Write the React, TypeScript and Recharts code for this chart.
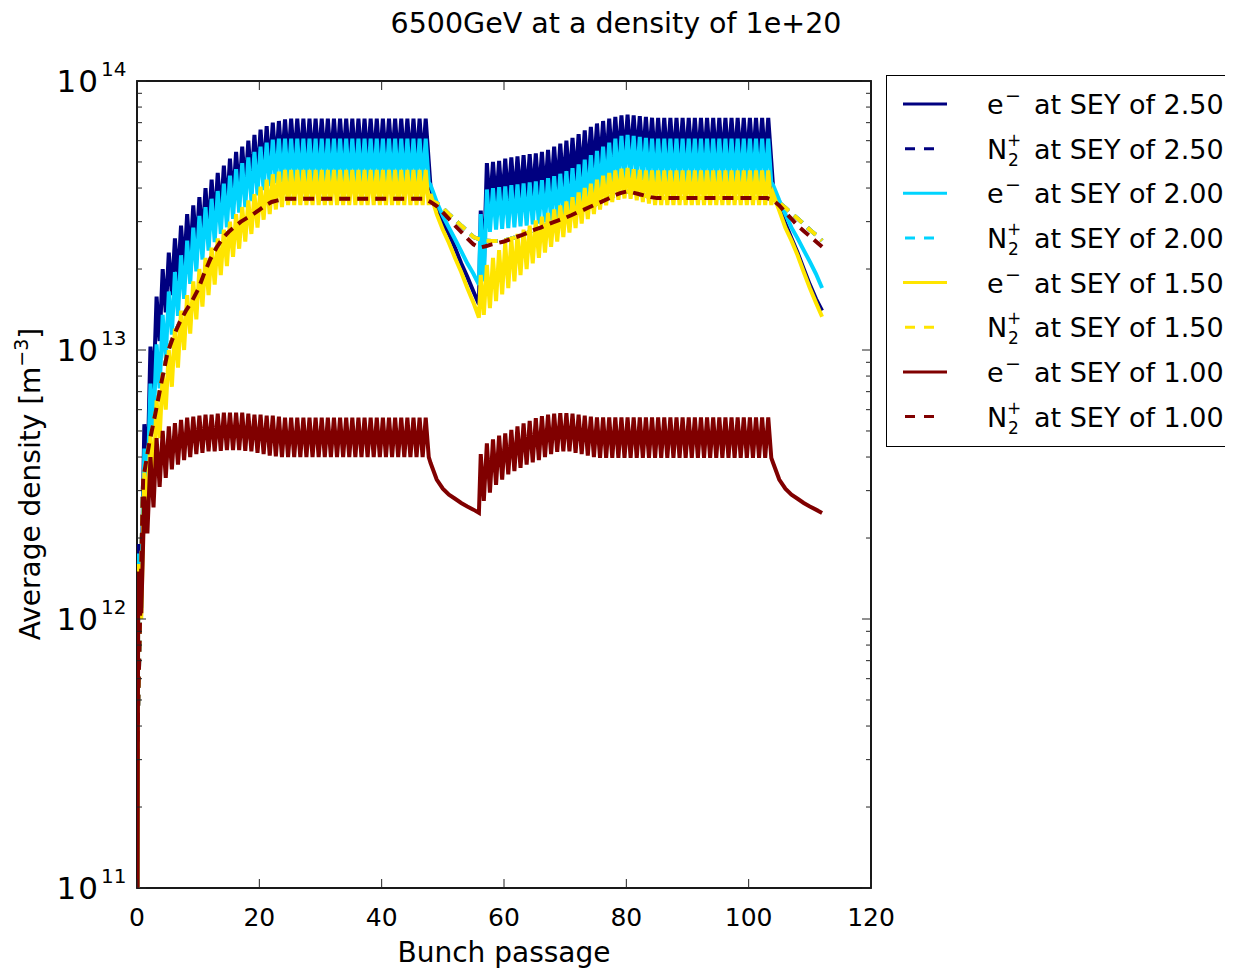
import React from 'react';
import { LineChart, Line, XAxis, YAxis } from 'recharts';

const FONT = '"DejaVu Sans", sans-serif';
const W = 1225;
const H = 962;
const PLOT_LEFT = 129;
const PLOT_TOP = 73;
const PLOT_RIGHT = 863;
const PLOT_BOTTOM = 880;

// axes
const xTicks = [0, 20, 40, 60, 80, 100, 120];
const yDecades = [1e11, 1e12, 1e13, 1e14];
const yMinorFactors = [2, 3, 4, 5, 6, 7, 8, 9];
const yTicks = [
  ...yDecades,
  ...yDecades.slice(0, 3).flatMap(d => yMinorFactors.map(m => m * d)),
];

// where the two bunch trains start, and the sample points of the empty gaps
const TRAIN1_START = 0;
const TRAIN2_START = 56;
const gap1X = [48, 49, 50, 51, 52, 53, 54, 55, 55.9];
const gap2X = [104, 105, 106, 107, 108, 109, 110, 111, 112];

// electron density, 1e12 m^-3: value right after each bunch (peak) and before the next (trough)
const e250Train1Peaks = [1.9, 5.3, 10.3, 15.8, 20, 23, 26, 29, 32, 34.5, 37, 40, 43, 45.5, 48.5, 51.5, 54.5, 57, 60, 63, 66, 68, 70, 71, 72, 72.5, 72.5, 72.5, 72.5, 72.5, 72.5, 72.5, 72.5, 72.5, 72.5, 72.5, 72.5, 72.5, 72.5, 72.5, 72.5, 72.5, 72.5, 72.5, 72.5, 72.5, 72.5, 72.5];
const e250Train1Troughs = [1.2, 3.4, 7, 10.8, 13.8, 16, 18, 20, 22, 23.8, 25.5, 27.5, 29.5, 31.4, 33.4, 35.5, 37.5, 39.3, 41.3, 43.4, 45.5, 46.9, 48.3, 49, 49.6, 50, 50, 50, 50, 50, 50, 50, 50, 50, 50, 50, 50, 50, 50, 50, 50, 50, 50, 50, 50, 50, 50, 50];
const e250Gap1 = [40, 34, 30, 27, 24, 21, 18.7, 16.5, 14.8];
const e250Train2Peaks = [33, 49.5, 50, 50.5, 51.5, 52, 52.5, 53, 53.5, 53.8, 54.5, 55.5, 57, 58.5, 60, 61.5, 63.5, 65.5, 67.5, 69.5, 71, 72.5, 73.5, 74.5, 75, 74.5, 74, 73.5, 73, 73, 73, 73, 73, 73, 73, 73, 73, 73, 73, 73, 73, 73, 73, 73, 73, 73, 73, 73];
const e250Train2Troughs = [20, 34, 34.5, 35, 35.5, 35.8, 36.2, 36.5, 36.8, 37, 37.5, 38.3, 39.3, 40.3, 41.4, 42.4, 43.8, 45.2, 46.5, 48, 49, 50, 50.7, 51.4, 51.7, 51.4, 51, 50.7, 50.3, 50.3, 50.3, 50.3, 50.3, 50.3, 50.3, 50.3, 50.3, 50.3, 50.3, 50.3, 50.3, 50.3, 50.3, 50.3, 50.3, 50.3, 50.3, 50.3];
const e250Gap2 = [40, 34, 29.5, 26, 23, 20, 17.5, 15.5, 14];

const e200Train1Peaks = [1.75, 4.3, 7.5, 10.5, 13.5, 16.5, 19.5, 22.5, 25.5, 28.5, 31.5, 34, 36.5, 39, 41.5, 44.5, 47, 49.5, 52, 54.5, 57, 59, 60.5, 61, 61, 61, 61, 61, 61, 61, 61, 61, 61, 61, 61, 61, 61, 61, 61, 61, 61, 61, 61, 61, 61, 61, 61, 61];
const e200Train1Troughs = [1.1, 3.0, 5.2, 7.2, 9.3, 11.4, 13.4, 15.5, 17.6, 19.6, 21.7, 23.4, 25.2, 27, 28.6, 30.7, 32.4, 34, 35.8, 37.6, 39.3, 40.7, 41.7, 42, 42, 42, 42, 42, 42, 42, 42, 42, 42, 42, 42, 42, 42, 42, 42, 42, 42, 42, 42, 42, 42, 42, 42, 42];
const e200Gap1 = [41, 35.5, 31.5, 28.5, 25.8, 23.3, 21, 19.2, 17.5];
const e200Train2Peaks = [32, 39.5, 40, 40.3, 40.6, 41, 41.3, 41.6, 42, 42.3, 42.8, 43.5, 44.3, 45.2, 46.2, 47.4, 49, 51, 53, 55, 57, 59, 61, 62.5, 63, 62.5, 62, 61.5, 61, 61, 61, 61, 61, 61, 61, 61, 61, 61, 61, 61, 61, 61, 61, 61, 61, 61, 61, 61];
const e200Train2Troughs = [18, 27.5, 28, 28.2, 28.4, 28.6, 28.8, 29, 29.3, 29.5, 29.8, 30.3, 30.8, 31.5, 32.2, 33, 34, 35.3, 36.7, 38, 39.5, 40.8, 42, 43, 43.5, 43, 42.7, 42.3, 42, 42, 42, 42, 42, 42, 42, 42, 42, 42, 42, 42, 42, 42, 42, 42, 42, 42, 42, 42];
const e200Gap2 = [41, 36, 32, 28.5, 26, 23.5, 21.3, 19.2, 17];

const e150Train1Peaks = [1.6, 3.5, 4.8, 6.5, 8.2, 10, 12, 14, 16, 18, 20, 22, 24, 26, 28, 30, 32, 34, 36, 38, 40.5, 43, 45, 46, 46.7, 46.7, 46.7, 46.7, 46.7, 46.7, 46.7, 46.7, 46.7, 46.7, 46.7, 46.7, 46.7, 46.7, 46.7, 46.7, 46.7, 46.7, 46.7, 46.7, 46.7, 46.7, 46.7, 46.7];
const e150Train1Troughs = [1.0, 2.5, 3.3, 4.7, 6.0, 7.3, 8.6, 10, 11.5, 13, 14.5, 16, 17.5, 19, 20.5, 22.2, 23.8, 25.3, 27, 28.5, 30.5, 32, 33.3, 34, 34.6, 34.6, 34.6, 34.6, 34.6, 34.6, 34.6, 34.6, 34.6, 34.6, 34.6, 34.6, 34.6, 34.6, 34.6, 34.6, 34.6, 34.6, 34.6, 34.6, 34.6, 34.6, 34.6, 34.6];
const e150Gap1 = [38, 32, 28, 25, 22, 19.5, 17, 15, 13.2];
const e150Train2Peaks = [19, 20.7, 22, 23.5, 25, 26, 27, 28, 29, 30.3, 31.3, 32.3, 33.3, 34.5, 35.7, 37, 38.5, 40, 41.5, 43, 44.5, 45.5, 46.5, 47.2, 47.5, 47, 46.7, 46.5, 46.5, 46.5, 46.5, 46.5, 46.5, 46.5, 46.5, 46.5, 46.5, 46.5, 46.5, 46.5, 46.5, 46.5, 46.5, 46.5, 46.5, 46.5, 46.5, 46.5];
const e150Train2Troughs = [13.5, 14.3, 15.2, 16.1, 17, 18, 19, 20, 21, 22, 23, 24.2, 25.3, 26.3, 27.3, 28.4, 29.5, 30.7, 32, 33.3, 34.5, 35.5, 36.2, 36.6, 36.5, 36, 35.5, 35, 34.6, 34.6, 34.6, 34.6, 34.6, 34.6, 34.6, 34.6, 34.6, 34.6, 34.6, 34.6, 34.6, 34.6, 34.6, 34.6, 34.6, 34.6, 34.6, 34.6];
const e150Gap2 = [38, 33, 28.5, 25.5, 22.5, 19.5, 17, 15, 13.3];

const e100Train1Peaks = [1.5, 2.85, 4.0, 4.7, 5.0, 5.2, 5.35, 5.5, 5.6, 5.65, 5.7, 5.75, 5.75, 5.8, 5.85, 5.85, 5.85, 5.85, 5.8, 5.75, 5.75, 5.7, 5.7, 5.65, 5.6, 5.6, 5.6, 5.6, 5.6, 5.6, 5.6, 5.6, 5.6, 5.6, 5.6, 5.6, 5.6, 5.6, 5.6, 5.6, 5.6, 5.6, 5.6, 5.6, 5.6, 5.6, 5.6, 5.6];
const e100Train1Troughs = [1.05, 2.08, 2.6, 3.1, 3.35, 3.6, 3.75, 3.9, 4.0, 4.1, 4.15, 4.2, 4.2, 4.22, 4.25, 4.25, 4.25, 4.22, 4.2, 4.15, 4.1, 4.05, 4.02, 4.0, 4.0, 4.0, 4.0, 4.0, 4.0, 4.0, 4.0, 4.0, 4.0, 4.0, 4.0, 4.0, 4.0, 4.0, 4.0, 4.0, 4.0, 4.0, 4.0, 4.0, 4.0, 4.0, 4.0, 4.0];
const e100Gap1 = [3.8, 3.3, 3.05, 2.9, 2.8, 2.7, 2.62, 2.55, 2.48];
const e100Train2Peaks = [4.1, 4.5, 4.65, 4.8, 4.9, 5.05, 5.2, 5.33, 5.45, 5.58, 5.68, 5.75, 5.8, 5.82, 5.82, 5.8, 5.75, 5.7, 5.65, 5.62, 5.62, 5.62, 5.62, 5.62, 5.62, 5.62, 5.62, 5.62, 5.62, 5.62, 5.62, 5.62, 5.62, 5.62, 5.62, 5.62, 5.62, 5.62, 5.62, 5.62, 5.62, 5.62, 5.62, 5.62, 5.62, 5.62, 5.62, 5.62];
const e100Train2Troughs = [2.75, 2.95, 3.15, 3.3, 3.45, 3.55, 3.65, 3.75, 3.82, 3.9, 4.0, 4.1, 4.18, 4.2, 4.2, 4.15, 4.1, 4.05, 4.0, 3.97, 3.97, 3.97, 3.97, 3.97, 3.97, 3.97, 3.97, 3.97, 3.97, 3.97, 3.97, 3.97, 3.97, 3.97, 3.97, 3.97, 3.97, 3.97, 3.97, 3.97, 3.97, 3.97, 3.97, 3.97, 3.97, 3.97, 3.97, 3.97];
const e100Gap2 = [3.8, 3.3, 3.05, 2.9, 2.8, 2.7, 2.62, 2.55, 2.48];

// N2+ density, 1e12 m^-3, at every bunch passage 0..112
const ionsSey100 = [0.3, 3.3, 4.5, 5.8, 7.6, 9.8, 11.3, 12.7, 14, 15.2, 16.8, 19.3, 21.8, 24, 26, 27.5, 28.8, 30, 31, 32, 33.2, 34.5, 35.5, 36, 36.5, 36.5, 36.5, 36.5, 36.5, 36.5, 36.5, 36.5, 36.5, 36.5, 36.5, 36.5, 36.5, 36.5, 36.5, 36.5, 36.5, 36.5, 36.5, 36.5, 36.5, 36.5, 36.5, 36.5, 35.5, 34.3, 32.5, 30.7, 29, 27.5, 26, 24.7, 24, 24.3, 24.7, 25, 25.3, 25.8, 26.3, 26.8, 27.4, 28, 28.5, 29.2, 29.8, 30.4, 31, 31.7, 32.5, 33.2, 34, 34.8, 35.6, 36.5, 37.5, 38.3, 38.8, 38.5, 38, 37.5, 37, 36.7, 36.7, 36.7, 36.7, 36.7, 36.7, 36.7, 36.7, 36.7, 36.7, 36.7, 36.7, 36.7, 36.7, 36.7, 36.7, 36.7, 36.7, 36.7, 36, 34.5, 32.5, 30.7, 29, 27.7, 26.5, 25.3, 24.2];
const ionsSeyHigh = [0.3, 3.3, 4.5, 5.8, 7.6, 9.8, 11.3, 12.7, 14, 15.2, 16.8, 19.3, 21.8, 24, 26, 27.5, 28.8, 30, 31, 32, 33.2, 34.5, 35.5, 36, 36.5, 36.5, 36.5, 36.5, 36.5, 36.5, 36.5, 36.5, 36.5, 36.5, 36.5, 36.5, 36.5, 36.5, 36.5, 36.5, 36.5, 36.5, 36.5, 36.5, 36.5, 36.5, 36.5, 36.5, 36, 35.2, 33.7, 32, 30.5, 29, 27.7, 26.3, 25.8, 25.5, 25.4, 25.4, 25.5, 25.9, 26.3, 26.8, 27.4, 28, 28.5, 29.2, 29.8, 30.4, 31, 31.7, 32.5, 33.2, 34, 34.8, 35.6, 36.5, 37.5, 38.3, 38.8, 38.5, 38, 37.5, 37, 36.7, 36.7, 36.7, 36.7, 36.7, 36.7, 36.7, 36.7, 36.7, 36.7, 36.7, 36.7, 36.7, 36.7, 36.7, 36.7, 36.7, 36.7, 36.7, 36.5, 35.3, 33.8, 32.2, 30.8, 29.4, 28, 26.8, 25.5];

const UNIT = 1e12;
type Pt = { x: number; y: number };

function train(start: number, peaks: number[], troughs: number[]): Pt[] {
  const out: Pt[] = [];
  peaks.forEach((p, i) => {
    out.push({ x: start + i + 0.2, y: p * UNIT });
    out.push({ x: start + i + 0.7, y: troughs[i] * UNIT });
  });
  return out;
}

function gap(xs: number[], vals: number[]): Pt[] {
  return xs.map((x, i) => ({ x, y: vals[i] * UNIT }));
}

function electrons(t1p: number[], t1t: number[], g1: number[], t2p: number[], t2t: number[], g2: number[]): Pt[] {
  return [
    { x: 0, y: 1e10 },
    ...train(TRAIN1_START, t1p, t1t),
    ...gap(gap1X, g1),
    ...train(TRAIN2_START, t2p, t2t),
    ...gap(gap2X, g2),
  ];
}

const ions = (vals: number[]): Pt[] => vals.map((v, i) => ({ x: i, y: v * UNIT }));

const C250 = '#000080';
const C200 = '#00d4ff';
const C150 = '#ffe500';
const C100 = '#800000';

const series = [
  { key: 'e250', ion: false, sey: '2.50', color: C250, data: electrons(e250Train1Peaks, e250Train1Troughs, e250Gap1, e250Train2Peaks, e250Train2Troughs, e250Gap2) },
  { key: 'n250', ion: true, sey: '2.50', color: C250, data: ions(ionsSeyHigh) },
  { key: 'e200', ion: false, sey: '2.00', color: C200, data: electrons(e200Train1Peaks, e200Train1Troughs, e200Gap1, e200Train2Peaks, e200Train2Troughs, e200Gap2) },
  { key: 'n200', ion: true, sey: '2.00', color: C200, data: ions(ionsSeyHigh) },
  { key: 'e150', ion: false, sey: '1.50', color: C150, data: electrons(e150Train1Peaks, e150Train1Troughs, e150Gap1, e150Train2Peaks, e150Train2Troughs, e150Gap2) },
  { key: 'n150', ion: true, sey: '1.50', color: C150, data: ions(ionsSeyHigh) },
  { key: 'e100', ion: false, sey: '1.00', color: C100, data: electrons(e100Train1Peaks, e100Train1Troughs, e100Gap1, e100Train2Peaks, e100Train2Troughs, e100Gap2) },
  { key: 'n100', ion: true, sey: '1.00', color: C100, data: ions(ionsSey100) },
];

const DASH = '11 7';
const TICK = '#222';

const isDecade = (v: number) => Math.abs(Math.log10(v) - Math.round(Math.log10(v))) < 1e-6;

// left labels plus inward ticks on both the left and right spines
function LeftTick(props: any) {
  const { y, payload } = props;
  const v = payload.value;
  const major = isDecade(v);
  const len = major ? 9 : 5;
  const exp = Math.round(Math.log10(v));
  return (
    <g>
      <line x1={PLOT_LEFT} x2={PLOT_LEFT + len} y1={y} y2={y} stroke={TICK} strokeWidth={1} />
      <line x1={PLOT_RIGHT} x2={PLOT_RIGHT - len} y1={y} y2={y} stroke={TICK} strokeWidth={1} />
      {major && (
        <g fontFamily={FONT} fill="#000">
          <text x={PLOT_LEFT - 37} y={y + 11} fontSize={31} letterSpacing={2} textAnchor="end">10</text>
          <text x={PLOT_LEFT - 36} y={y - 5} fontSize={20} textAnchor="start">{exp}</text>
        </g>
      )}
    </g>
  );
}

// bottom labels plus inward ticks on both the bottom and top spines
function BottomTick(props: any) {
  const { x, payload } = props;
  return (
    <g>
      <line x1={x} x2={x} y1={PLOT_BOTTOM} y2={PLOT_BOTTOM - 9} stroke={TICK} strokeWidth={1} />
      <line x1={x} x2={x} y1={PLOT_TOP} y2={PLOT_TOP + 9} stroke={TICK} strokeWidth={1} />
      <text x={x} y={PLOT_BOTTOM + 38} fontSize={25} fontFamily={FONT} textAnchor="middle" fill="#000">{payload.value}</text>
    </g>
  );
}

function LegendBox() {
  const rowTop = 29;
  const step = 44.65;
  return (
    <div style={{ position: 'absolute', left: 878, top: 67, width: 400, height: 372, border: '1.5px solid #000', background: '#fff', boxSizing: 'border-box' }}>
      <svg width={400} height={372} style={{ display: 'block', position: 'absolute', left: -1.5, top: -1.5 }}>
        {series.map((s, i) => {
          const cy = rowTop + i * step;
          return (
            <g key={s.key} fontFamily={FONT} fill="#000">
              {s.ion ? (
                <line x1={19} x2={50} y1={cy} y2={cy} stroke={s.color} strokeWidth={3} strokeDasharray="10 9" />
              ) : (
                <line x1={17} x2={61} y1={cy} y2={cy} stroke={s.color} strokeWidth={3} />
              )}
              {s.ion ? (
                <>
                  <text x={101} y={cy + 10} fontSize={27}>N</text>
                  <text x={122} y={cy + 17} fontSize={17}>2</text>
                  <text x={121} y={cy - 3} fontSize={17}>+</text>
                </>
              ) : (
                <>
                  <text x={101} y={cy + 10} fontSize={27}>e</text>
                  <text x={119} y={cy - 2} fontSize={19}>−</text>
                </>
              )}
              <text x={148} y={cy + 10} fontSize={27}>at SEY of {s.sey}</text>
            </g>
          );
        })}
      </svg>
    </div>
  );
}

export default function App() {
  return (
    <div style={{ position: 'relative', width: W, height: H, overflow: 'hidden', background: '#fff' }}>
      <LineChart width={W} height={H} margin={{ top: PLOT_TOP, right: W - PLOT_RIGHT, left: 0, bottom: 0 }}>
        <XAxis
          xAxisId="b"
          type="number"
          dataKey="x"
          domain={[0, 120]}
          ticks={xTicks}
          interval={0}
          allowDataOverflow
          height={H - PLOT_BOTTOM}
          tickSize={0}
          tickMargin={0}
          tickLine={false}
          tick={<BottomTick />}
          axisLine={false}
          label={() => (
            <text x={496} y={954} fontSize={28} fontFamily={FONT} textAnchor="middle" fill="#000">Bunch passage</text>
          )}
        />
        <YAxis
          yAxisId="l"
          scale="log"
          type="number"
          domain={[1e11, 1e14]}
          ticks={yTicks}
          interval={0}
          allowDataOverflow
          width={PLOT_LEFT}
          tickSize={0}
          tickMargin={0}
          tickLine={false}
          tick={<LeftTick />}
          axisLine={false}
          label={() => (
            <text transform="translate(32,476) rotate(-90)" fontSize={28} fontFamily={FONT} textAnchor="middle" fill="#000">
              Average density [m<tspan fontSize={19} dy={-12}>−3</tspan><tspan dy={12}>]</tspan>
            </text>
          )}
        />
        {series.map(s => (
          <Line
            key={s.key}
            xAxisId="b"
            yAxisId="l"
            data={s.data}
            dataKey="y"
            type="linear"
            stroke={s.color}
            strokeWidth={4}
            strokeDasharray={s.ion ? DASH : undefined}
            dot={false}
            activeDot={false}
            isAnimationActive={false}
          />
        ))}
        <rect
          x={PLOT_LEFT}
          y={PLOT_TOP}
          width={PLOT_RIGHT - PLOT_LEFT}
          height={PLOT_BOTTOM - PLOT_TOP}
          fill="none"
          stroke="#000"
          strokeWidth={1.8}
        />
        <text x={608} y={25} fontSize={28.5} fontFamily={FONT} textAnchor="middle" fill="#000">
          6500GeV at a density of 1e+20
        </text>
      </LineChart>
      <LegendBox />
    </div>
  );
}
